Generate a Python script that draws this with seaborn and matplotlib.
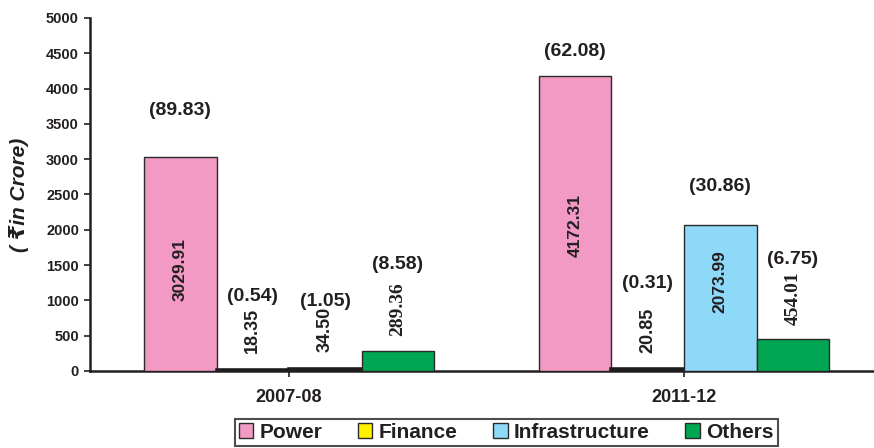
import matplotlib
matplotlib.use("Agg")
import matplotlib.pyplot as plt
import seaborn as sns
import pandas as pd

# Sector-wise amounts (Rs. crore) and their shares (%) for two years
years = ["2007-08", "2011-12"]
sectors = ["Power", "Finance", "Infrastructure", "Others"]
amount_2007 = [3029.91, 18.35, 34.50, 289.36]
amount_2011 = [4172.31, 20.85, 2073.99, 454.01]
share_2007 = [89.83, 0.54, 1.05, 8.58]
share_2011 = [62.08, 0.31, 30.86, 6.75]
yticks = list(range(0, 5001, 500))

colors = ["#F29AC4", "#FFF200", "#8ED8F8", "#00A651"]
# heights (data units) at which the share labels are centred
share_label_y = {"2007-08": [3690, 1050, 985, 1510],
                 "2011-12": [4530, 1232, 2613, 1572]}
# centres of the amount labels written inside the tall bars
inner_label_y = {("2007-08", "Power"): 1430,
                 ("2011-12", "Power"): 2060,
                 ("2011-12", "Infrastructure"): 1265}

rows = []
for yr, amts, shs in [(years[0], amount_2007, share_2007),
                      (years[1], amount_2011, share_2011)]:
    for s, a, p in zip(sectors, amts, shs):
        rows.append({"Year": yr, "Sector": s, "Amount": a, "Share": p})
df = pd.DataFrame(rows)

sns.set_theme(style="white")
plt.rcParams["font.family"] = ["Liberation Sans", "DejaVu Sans"]
plt.rcParams["font.weight"] = "bold"
ink = "#231F20"
edge = "#2A2A2A"

fig = plt.figure(figsize=(8.74, 4.48), dpi=100)
ax = fig.add_axes([0.103, 0.172, 0.897, 0.788])

sns.barplot(data=df, x="Year", y="Amount", hue="Sector", order=years,
            hue_order=sectors, palette=colors, width=0.735,
            edgecolor=edge, linewidth=1.0, saturation=1, ax=ax, zorder=3)

# very short bars show up only as their dark outline
for p in ax.patches:
    if p.get_height() < 100:
        p.set_linewidth(2.6)
        p.set_edgecolor("#1E1E1E")

ax.set_ylim(0, 5000)
ax.set_xlim(-0.504, 1.481)
ax.set_yticks(yticks)
ax.set_yticklabels([str(t) for t in yticks], fontsize=10.5, fontweight="bold", color=ink)
ax.set_xticks([0, 1])
ax.set_xticklabels(years, fontsize=13, fontweight="bold", color=ink)
ax.tick_params(axis="both", direction="out", length=4, width=1.2, color=ink,
               bottom=True, left=True)
ax.tick_params(axis="x", pad=9)
ax.tick_params(axis="y", pad=4)
ax.set_xlabel("")
ax.set_ylabel("( \u20b9in Crore)", fontsize=15, fontweight="bold", style="italic",
              color=ink, labelpad=12)
for side in ["top", "right"]:
    ax.spines[side].set_visible(False)
for side in ["left", "bottom"]:
    ax.spines[side].set_color(ink)
    ax.spines[side].set_linewidth(1.8)

# value and share labels
for hi, container in enumerate(ax.containers):
    sector = sectors[hi]
    for yi, bar in enumerate(container):
        yr = years[yi]
        row = df[(df.Year == yr) & (df.Sector == sector)].iloc[0]
        val, shr = row.Amount, row.Share
        cx = bar.get_x() + bar.get_width() / 2
        if (yr, sector) in inner_label_y:
            ax.text(cx, inner_label_y[(yr, sector)], f"{val:.2f}", rotation=90,
                    ha="center", va="center", fontsize=12.5, fontweight="bold",
                    color=ink, zorder=4)
        elif sector == "Others":
            ax.text(cx, val + 200, f"{val:.2f}", rotation=90, ha="center",
                    va="bottom", fontsize=14, fontweight="bold", color=ink,
                    family=["Liberation Serif", "DejaVu Serif"])
        else:
            ax.text(cx, val + 230, f"{val:.2f}", rotation=90, ha="center",
                    va="bottom", fontsize=13, fontweight="bold", color=ink)
        ax.text(cx, share_label_y[yr][hi], f"({shr:.2f})", ha="center",
                va="center", fontsize=14, fontweight="bold", color=ink)

leg = ax.legend(loc="lower center", bbox_to_anchor=(0.579, 0.004),
                bbox_transform=fig.transFigure, ncol=4, frameon=True,
                fancybox=False, handlelength=0.7, handleheight=0.7,
                handletextpad=0.3, columnspacing=1.7, borderpad=0.2,
                borderaxespad=0, prop={"weight": "bold", "size": 15})
leg.get_frame().set_edgecolor(ink)
leg.get_frame().set_linewidth(1.5)
for h in leg.legend_handles:
    h.set_edgecolor(edge)
    h.set_linewidth(1.0)
for t in leg.get_texts():
    t.set_color(ink)

fig.savefig("out.png", dpi=100)
